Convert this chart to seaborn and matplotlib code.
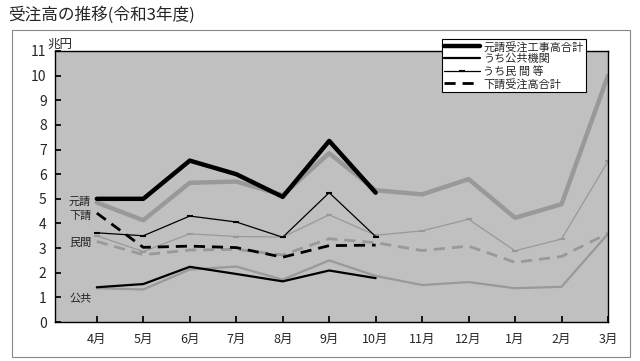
import matplotlib
matplotlib.use("Agg")
import matplotlib.pyplot as plt
import seaborn as sns
import pandas as pd
from matplotlib.lines import Line2D
from matplotlib.patches import Rectangle

months = ["4月", "5月", "6月", "7月", "8月", "9月", "10月", "11月", "12月", "1月", "2月", "3月"]

# 令和3年度 (4月～10月)
motouke = [5.0, 5.0, 6.55, 6.0, 5.08, 7.35, 5.25]
koukyou = [1.41, 1.54, 2.24, 1.95, 1.65, 2.09, 1.78]
minkan = [3.62, 3.5, 4.3, 4.06, 3.44, 5.25, 3.47]
shitauke = [4.42, 3.03, 3.08, 3.02, 2.63, 3.1, 3.12]

# 前年度 (4月～3月)
motouke_prev = [4.85, 4.13, 5.65, 5.7, 5.15, 6.85, 5.35, 5.18, 5.8, 4.23, 4.78, 10.0]
koukyou_prev = [1.37, 1.32, 2.13, 2.25, 1.72, 2.5, 1.87, 1.5, 1.62, 1.37, 1.43, 3.58]
minkan_prev = [3.5, 2.86, 3.58, 3.47, 3.45, 4.35, 3.52, 3.7, 4.17, 2.89, 3.37, 6.52]
shitauke_prev = [3.27, 2.73, 2.92, 2.95, 2.72, 3.38, 3.22, 2.9, 3.08, 2.42, 2.66, 3.6]

legend_labels = ["元請受注工事高合計", "うち公共機関", "うち民 間 等", "下請受注高合計"]
side_labels = ["元請", "下請", "民間", "公共"]
side_label_y = [4.87, 4.3, 3.2, 0.93]

sns.set_theme(style="white")
plt.rcParams["font.family"] = ["Noto Sans CJK JP", "DejaVu Sans"]

fig = plt.figure(figsize=(6.4, 3.61), dpi=100)
ax = fig.add_axes([55 / 640, 1 - 322 / 361, (608 - 55) / 640, (322 - 51) / 361])
ax.set_facecolor("#c0c0c0")

gray = "#999999"
styles = [
    dict(lw=3.2),
    dict(lw=1.6),
    dict(lw=0.9, marker="_", markersize=5, markeredgewidth=1.5),
    dict(lw=2.0, dashes=(4, 2.5)),
]
prev = [motouke_prev, koukyou_prev, minkan_prev, shitauke_prev]
cur = [motouke, koukyou, minkan, shitauke]

for vals, st in zip(prev, styles):
    df = pd.DataFrame({"x": range(len(vals)), "y": vals})
    extra = {"markeredgecolor": gray} if "marker" in st else {}
    sns.lineplot(data=df, x="x", y="y", ax=ax, color=gray, **st, **extra)

handles = []
for vals, st, lab in zip(cur, styles, legend_labels):
    df = pd.DataFrame({"x": range(len(vals)), "y": vals})
    extra = {"markeredgecolor": "black"} if "marker" in st else {}
    sns.lineplot(data=df, x="x", y="y", ax=ax, color="black", **st, **extra)
    handles.append(Line2D([], [], color="black", label=lab, **st))

for lab, yv in zip(side_labels, side_label_y):
    ax.text(-0.6, yv, lab, fontsize=8, ha="left", va="center", color="#222222")

ax.set_xlim(-0.9, 11)
ax.set_ylim(0, 11)
ax.set_yticks(range(12))
ax.set_xticks(range(12))
ax.set_xticklabels(months, fontsize=9)
ax.tick_params(axis="y", labelsize=10, length=4, direction="in", pad=6)
ax.tick_params(axis="x", length=4, direction="in", pad=8)
ax.tick_params(axis="both", which="both", left=True, bottom=True, color="black")
ax.set_xlabel("")
ax.set_ylabel("")
for s in ax.spines.values():
    s.set_color("black")
    s.set_linewidth(1.0)

fig.text(47 / 640, 1 - 44 / 361, "兆円", fontsize=9, ha="left", va="center")
fig.text(8 / 640, 1 - 15 / 361, "受注高の推移(令和3年度)", fontsize=12, ha="left", va="center")

fig.patches.append(Rectangle((12 / 640, 1 - 357 / 361), 618 / 640, 327 / 361,
                             transform=fig.transFigure, fill=False,
                             edgecolor="#888888", lw=0.8))

leg = fig.legend(handles=handles, loc="upper left",
                 bbox_to_anchor=(436 / 640, 1 - 33 / 361),
                 fontsize=8, handlelength=3.2, handletextpad=0.3,
                 labelspacing=0.15, borderpad=0.25, frameon=True,
                 fancybox=False, framealpha=1)
leg.get_frame().set_edgecolor("black")
leg.get_frame().set_linewidth(0.8)

fig.savefig("out.png", dpi=100)
